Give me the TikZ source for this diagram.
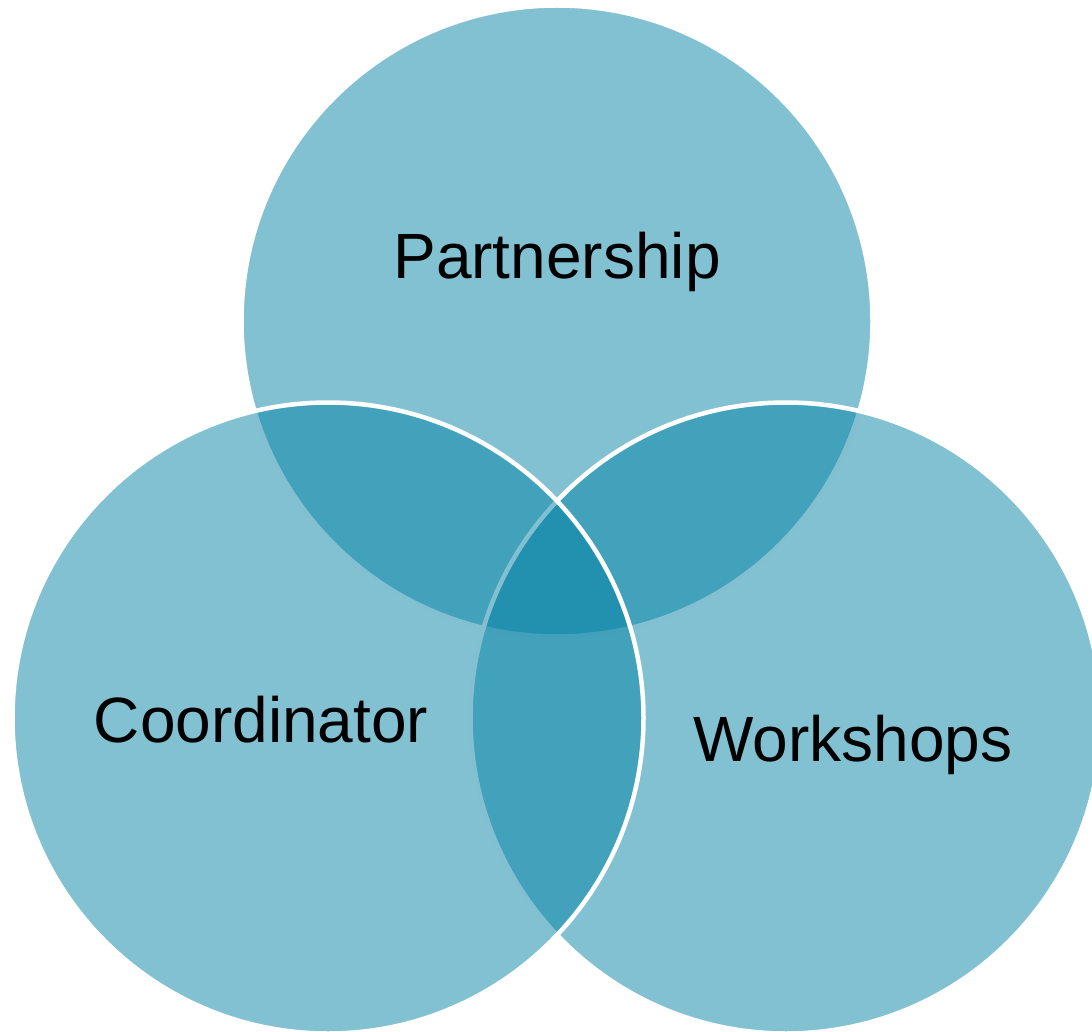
\documentclass[tikz,border=0pt]{standalone}
\usepackage{fontspec}
\setmainfont{Liberation Sans}
\definecolor{venn}{RGB}{0,128,163}
\begin{document}
\begin{tikzpicture}[x=1pt,y=-1pt,
  vcirc/.style={fill=venn,fill opacity=0.49,draw=white,draw opacity=1,line width=4.5pt},
  vlabel/.style={anchor=base,text=black,font=\fontsize{64}{70}\selectfont,inner sep=0pt}]
\useasboundingbox (0,0) rectangle (1092,1032);
\clip (0,0) rectangle (1092,1032);
\draw[vcirc] (557,321) circle[radius=315.5];
\draw[vcirc] (786,718) circle[radius=315.5];
\draw[vcirc] (328,718) circle[radius=315.5];
\node[vlabel] (p) at (557,279) {Partnership};
\node[vlabel] (c) at (261,742) {Coordinator};
\node[vlabel] (w) at (853,761) {Workshops};
\end{tikzpicture}
\end{document}
